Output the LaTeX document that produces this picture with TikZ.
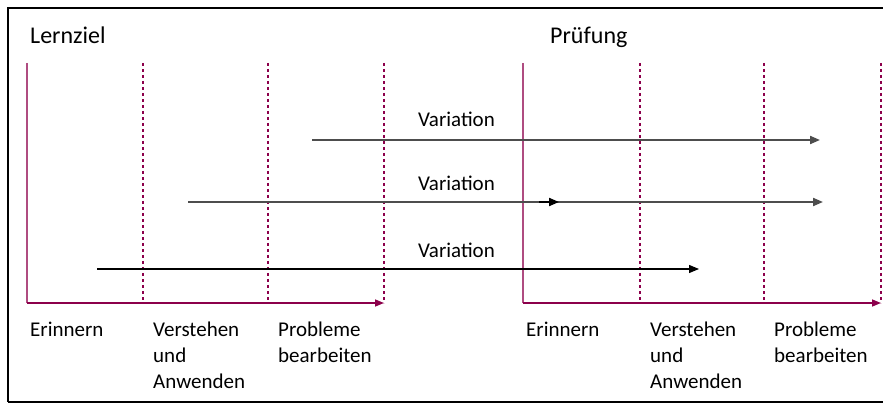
\documentclass[tikz,border=0pt]{standalone}
\usepackage{fontspec}
\setmainfont{Carlito}
\usetikzlibrary{arrows.meta}
\definecolor{axis}{RGB}{140,0,75}
\definecolor{arrgray}{RGB}{77,77,77}
\begin{document}
\begin{tikzpicture}[x=1pt,y=-1pt,
  lbl/.style={anchor=base west,inner sep=0pt,font=\fontsize{21}{26}\selectfont,align=left},
  ttl/.style={anchor=base west,inner sep=0pt,font=\fontsize{24}{28}\selectfont},
  axisline/.style={draw=axis,line width=1.5pt,-{Triangle[length=9pt,width=7pt]}},
  vaxis/.style={draw=axis!70,line width=1.2pt},
  grid/.style={draw=axis,line width=1.1pt,dash pattern=on 3pt off 3pt},
  varthick/.style={draw=arrgray,line width=2pt,-{Triangle[length=10pt,width=8pt]}},
  varthin/.style={draw=black,line width=1.2pt,-{Triangle[length=10pt,width=8pt]}}]
\useasboundingbox (0,0) rectangle (883,403);
% frame
\draw[line width=2.5pt] (883,8) -- (8,8) -- (8,402);
\draw[line width=1.3pt] (8,402) -- (883,402);
% titles
\node[ttl] (t1) at (30,44) {Lernziel};
\node[ttl] (t2) at (550,44) {Prüfung};
% left axes
\coordinate (L0) at (27,63);
\coordinate (Lo) at (27,303);
\coordinate (Lx) at (384,303);
\foreach \x/\n in {143/a,268/b,384/c}{
  \coordinate (Lt\n) at (\x,63);
  \coordinate (Lb\n) at (\x,303);
  \draw[grid] (Lt\n) -- (Lb\n);
}
\draw[vaxis] (L0) -- (Lo);
\draw[axisline] (Lo) -- (Lx);
% right axes
\coordinate (R0) at (523,63);
\coordinate (Ro) at (523,303);
\coordinate (Rx) at (881,303);
\foreach \x/\n in {640/a,764/b,881/c}{
  \coordinate (Rt\n) at (\x,63);
  \coordinate (Rb\n) at (\x,303);
  \draw[grid] (Rt\n) -- (Rb\n);
}
\draw[vaxis] (R0) -- (Ro);
\draw[axisline] (Ro) -- (Rx);
% variation arrows
\coordinate (a1s) at (312,140);
\coordinate (a1e) at (820,140);
\coordinate (a2s) at (188,202);
\coordinate (a2e) at (823,202);
\coordinate (a2m) at (539,202);
\coordinate (a2n) at (559,202);
\coordinate (a3s) at (97,269);
\coordinate (a3e) at (699,269);
\draw[varthick] (a1s) -- (a1e);
\draw[varthick] (a2s) -- (a2e);
\draw[varthin,line width=2pt] (a2m) -- (a2n);
\draw[varthin] (a3s) -- (a3e);
\node[lbl] (v1) at (418,127) {Variation};
\node[lbl] (v2) at (418,191) {Variation};
\node[lbl] (v3) at (418,258) {Variation};
% bottom labels (base anchor = last line)
\node[lbl] (le) at (30,336) {Erinnern};
\node[lbl] (lv) at (153,388) {Verstehen\\und\\Anwenden};
\node[lbl] (lp) at (278,362) {Probleme\\bearbeiten};
\node[lbl] (re) at (526,336) {Erinnern};
\node[lbl] (rv) at (650,388) {Verstehen\\und\\Anwenden};
\node[lbl] (rp) at (774,362) {Probleme\\bearbeiten};
\end{tikzpicture}
\end{document}
